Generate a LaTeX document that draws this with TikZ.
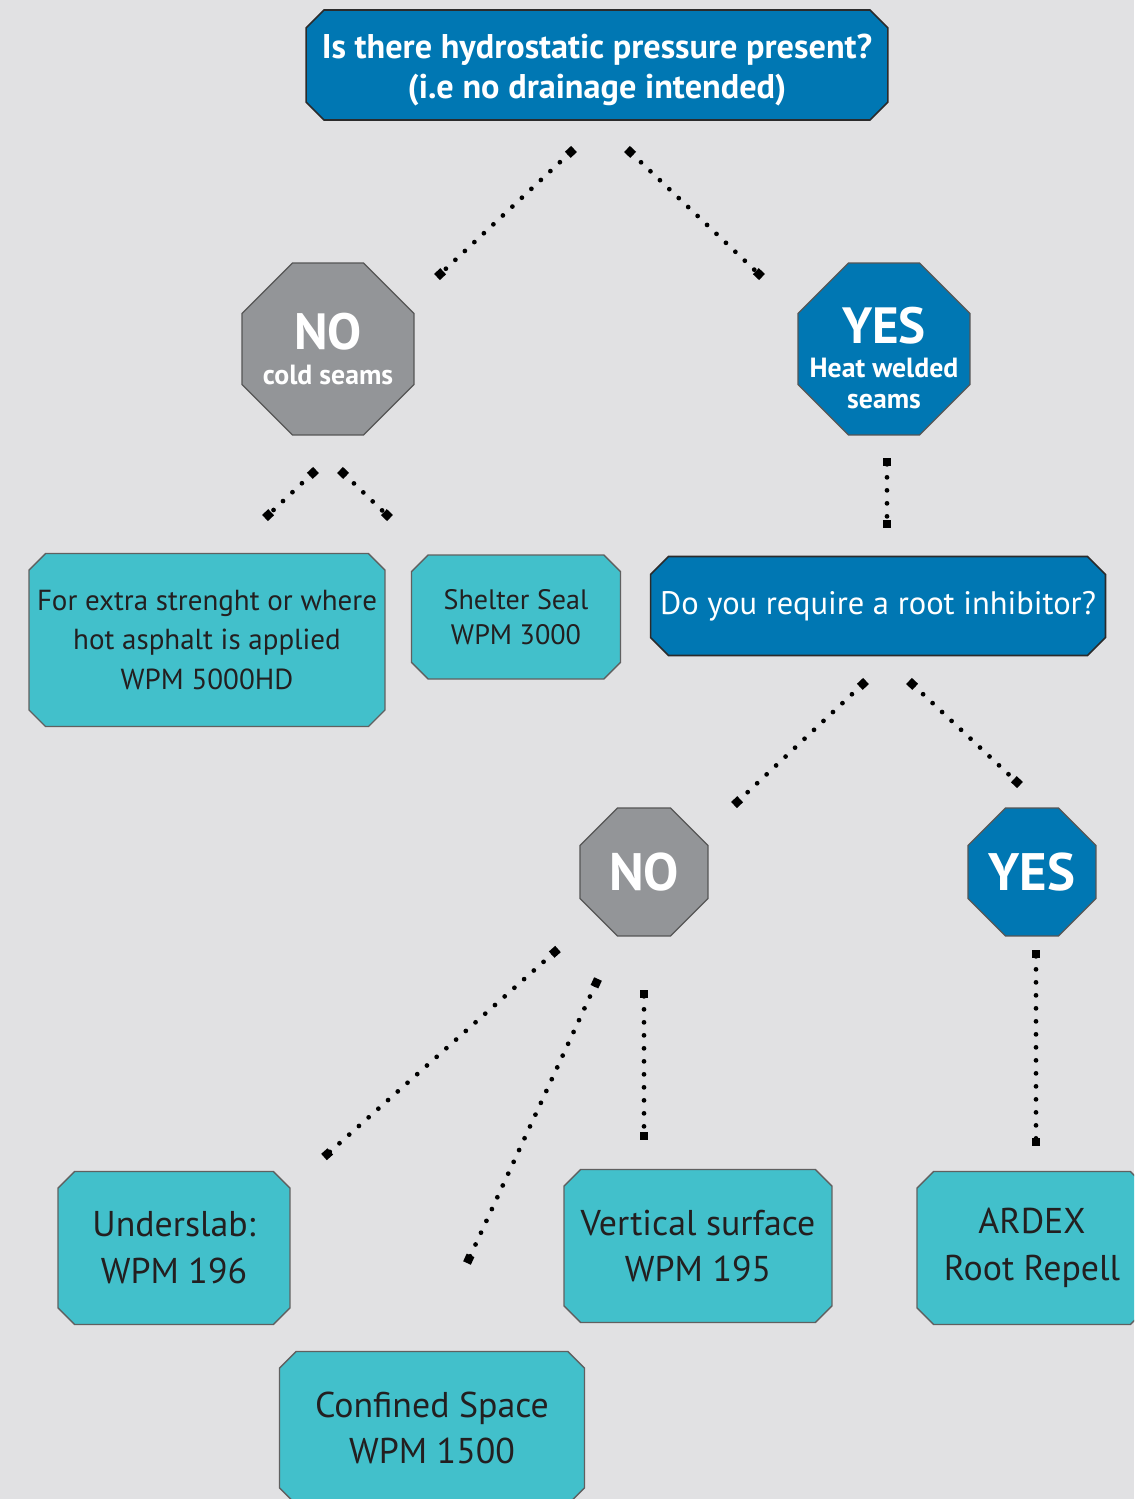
\documentclass[tikz,border=0pt]{standalone}
\usepackage{fontspec}
\setmainfont{PT Sans}
\usepackage{xcolor}
\usetikzlibrary{shapes.misc,shapes.geometric,arrows.meta}

\definecolor{bgGray}{HTML}{E1E1E3}
\definecolor{qBlue}{HTML}{0077B3}
\definecolor{octGray}{HTML}{939598}
\definecolor{boxTeal}{HTML}{42C0CB}
\definecolor{edgeDark}{HTML}{2B2B2B}
\definecolor{inkDark}{HTML}{231F20}

\tikzset{
question/.style={chamfered rectangle,chamfered rectangle xsep=0.17cm,chamfered rectangle ysep=0.19cm,
  fill=qBlue,draw=edgeDark,line width=0.9pt,text=white,align=center,inner sep=0pt},
answer/.style={regular polygon,regular polygon sides=8,inner sep=-25pt,draw=edgeDark!80,
  line width=0.7pt,text=white,align=center},
product/.style={chamfered rectangle,chamfered rectangle xsep=0.16cm,chamfered rectangle ysep=0.17cm,
  fill=boxTeal,draw=edgeDark!75,line width=0.8pt,text=inkDark,align=center,inner sep=0pt},
link/.style={line width=2.7pt,line cap=round,dash pattern=on 0pt off 7.4pt,
  {Square[length=4.8pt,width=4.8pt]}-{Square[length=4.8pt,width=4.8pt]}}
}

\begin{document}
\begin{tikzpicture}[x=0.02cm,y=-0.02cm]
\fill[bgGray](0,0)rectangle(1134,1499);
\clip(0,0)rectangle(1134,1499);

% questions
\node[question,minimum width=11.64cm,minimum height=2.2cm,font=\bfseries\fontsize{19.5}{22.5}\selectfont]
  (q1) at (597,65) {\rule{0pt}{19.5pt}Is there hydrostatic pressure present?\\(i.e no drainage intended)};
\node[question,minimum width=9.1cm,minimum height=1.98cm,font=\fontsize{18.5}{22}\selectfont]
  (q2) at (878,606) {Do you require a root inhibitor?};

% answers
\node[answer,fill=octGray,minimum size=3.72cm,font=\bfseries\fontsize{15.8}{17}\selectfont]
  (no1) at (328,349) {{\fontsize{29}{29}\selectfont NO}\\[3pt]cold seams};
\node[answer,fill=qBlue,minimum size=3.72cm,font=\bfseries\fontsize{15.8}{17.6}\selectfont]
  (yes1) at (884,349) {\rule{0pt}{31pt}{\fontsize{29}{29}\selectfont YES}\\[2pt]Heat welded\\seams};
\node[answer,fill=octGray,minimum size=2.77cm,font=\bfseries\fontsize{30}{30}\selectfont]
  (no2) at (644,872) {NO};
\node[answer,fill=qBlue,minimum size=2.77cm,font=\bfseries\fontsize{30}{30}\selectfont]
  (yes2) at (1032,872) {YES};

% products
\node[product,minimum width=7.1cm,minimum height=3.46cm,font=\fontsize{16.5}{22.5}\selectfont]
  (b1) at (207,640) {For extra strenght or where\\hot asphalt is applied\\WPM 5000HD};
\node[product,minimum width=4.18cm,minimum height=2.48cm,font=\fontsize{16}{20}\selectfont]
  (b2) at (516,617) {Shelter Seal\\WPM 3000};
\node[product,minimum width=4.64cm,minimum height=3.06cm,font=\fontsize{20.4}{26.6}\selectfont]
  (b3) at (174,1248) {Underslab:\\WPM 196};
\node[product,minimum width=6.1cm,minimum height=3.06cm,font=\fontsize{20.4}{26.6}\selectfont]
  (b4) at (432,1428) {Confined Space\\WPM 1500};
\node[product,minimum width=5.36cm,minimum height=3.06cm,font=\fontsize{20.4}{26.6}\selectfont]
  (b5) at (698,1246) {Vertical surface\\WPM 195};
\node[product,minimum width=4.6cm,minimum height=3.06cm,font=\fontsize{20.4}{26.6}\selectfont]
  (b6) at (1032,1248) {ARDEX\\Root Repell};

% dotted links
\coordinate (q1-l) at (574,149); \coordinate (no1-t) at (437,277);
\coordinate (q1-r) at (627,149); \coordinate (yes1-t) at (762,277);
\coordinate (no1-l) at (316,470); \coordinate (b1-t) at (265,518);
\coordinate (no1-r) at (340,470); \coordinate (b2-t) at (390,518);
\coordinate (yes1-b) at (887,458); \coordinate (q2-t) at (887,528);
\coordinate (q2-l) at (866,681); \coordinate (no2-t) at (734,805);
\coordinate (q2-r) at (909,681); \coordinate (yes2-t) at (1020,785);
\coordinate (no2-a) at (558,949); \coordinate (b3-t) at (324,1157);
\coordinate (no2-b) at (598,979); \coordinate (b4-t) at (467,1263);
\coordinate (no2-c) at (644,990); \coordinate (b5-t) at (644,1140);
\coordinate (yes2-b) at (1036,950); \coordinate (b6-t) at (1036,1146);
\draw[link](q1-l)--(no1-t);
\draw[link](q1-r)--(yes1-t);
\draw[link](no1-l)--(b1-t);
\draw[link](no1-r)--(b2-t);
\draw[link](yes1-b)--(q2-t);
\draw[link](q2-l)--(no2-t);
\draw[link](q2-r)--(yes2-t);
\draw[link](no2-a)--(b3-t);
\draw[link](no2-b)--(b4-t);
\draw[link](no2-c)--(b5-t);
\draw[link](yes2-b)--(b6-t);
\end{tikzpicture}
\end{document}
